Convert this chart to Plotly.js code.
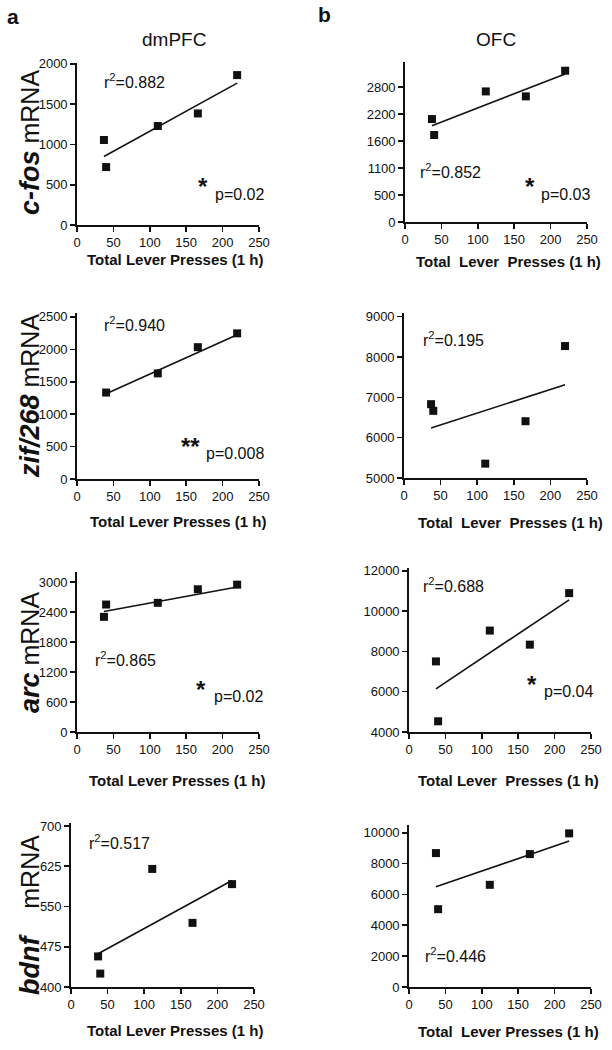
<!DOCTYPE html>
<html>
<head>
<meta charset="utf-8">
<script src="https://cdn.plot.ly/plotly-3.0.1.min.js"></script>
<style>html,body{margin:0;padding:0;background:#fff;}</style>
</head>
<body>
<div id="chart" style="width:612px;height:1050px;"></div>
<script>
// ---- data ----
const leverPresses = [37, 40, 111, 166, 220];
const fitX = [37, 220];

const cfosDmPFC = [1055, 719, 1228, 1384, 1860];
const cfosOFC   = [2136, 1805, 2710, 2607, 3139];   // plotted on the axis scale whose ticks are equally spaced
const zifDmPFC  = [null, 1333, 1629, 2033, 2246];
const zifOFC    = [6830, 6665, 5356, 6408, 8271];
const arcDmPFC  = [2308, 2554, 2588, 2860, 2953];
const arcOFC    = [7502, 4531, 9030, 8333, 10888];
const bdnfDmPFC = [457, 425, 620, 519.5, 591.7];
const bdnfOFC   = [8680, 5043, 6623, 8615, 9957];

const fitCfosDmPFC = [850, 1760];
const fitCfosOFC   = [1998, 3070];
const fitZifDmPFC  = [1300, 2225];
const fitZifOFC    = [6242, 7311];
const fitArcDmPFC  = [2415, 2907];
const fitArcOFC    = [6141, 10557];
const fitBdnfDmPFC = [462, 598.5];
const fitBdnfOFC   = [6494, 9459];

const xTicks = [0, 50, 100, 150, 200, 250];
const yTicksCfosDmPFC = [0, 500, 1000, 1500, 2000];
const yTickValsCfosOFC = [0, 560, 1120, 1680, 2240, 2800];
const yTickTextCfosOFC = ['0', '500', '1100', '1600', '2200', '2800'];
const yTicksZifDmPFC = [0, 500, 1000, 1500, 2000, 2500];
const yTicksZifOFC = [5000, 6000, 7000, 8000, 9000];
const yTicksArcDmPFC = [0, 600, 1200, 1800, 2400, 3000];
const yTicksArcOFC = [4000, 6000, 8000, 10000, 12000];
const yTicksBdnfDmPFC = [400, 475, 550, 625, 700];
const yTicksBdnfOFC = [0, 2000, 4000, 6000, 8000, 10000];

const r2Labels = ['0.882', '0.852', '0.940', '0.195', '0.865', '0.688', '0.517', '0.446'];
const pLabels = ['p=0.02', 'p=0.03', 'p=0.008', null, 'p=0.02', 'p=0.04', null, null];
const starLabels = ['*', '*', '**', null, '*', '*', null, null];
const genes = ['c-fos', 'zif/268', 'arc', 'bdnf'];
const regions = ['dmPFC', 'OFC'];
const xTitleTexts = [
  'Total Lever Presses (1 h)', 'Total\u00a0\u00a0Lever\u00a0\u00a0Presses (1 h)',
  'Total Lever Presses (1 h)', 'Total\u00a0\u00a0Lever\u00a0\u00a0Presses (1 h)',
  'Total Lever Presses (1 h)', 'Total Lever\u00a0\u00a0Presses (1 h)',
  'Total Lever Presses (1 h)', 'Total\u00a0\u00a0Lever Presses (1 h)'
];

// ---- layout helpers ----
const W = 612, H = 1050;
const fx = x => x / W;
const fy = y => 1 - y / H;
const FONT = '"Liberation Sans", Arial, Helvetica, sans-serif';

const panels = [
  {y: cfosDmPFC, fit: fitCfosDmPFC, dom: [77, 259, 63, 225], range: [0, 2010], tv: yTicksCfosDmPFC},
  {y: cfosOFC, fit: fitCfosOFC, dom: [405, 587, 62, 222], range: [0, 3320], tv: yTickValsCfosOFC, tt: yTickTextCfosOFC},
  {y: zifDmPFC, fit: fitZifDmPFC, dom: [77, 259, 313, 479], range: [0, 2560], tv: yTicksZifDmPFC},
  {y: zifOFC, fit: fitZifOFC, dom: [404, 587, 313, 478], range: [5000, 9090], tv: yTicksZifOFC},
  {y: arcDmPFC, fit: fitArcDmPFC, dom: [77, 259, 572, 732], range: [0, 3206], tv: yTicksArcDmPFC},
  {y: arcOFC, fit: fitArcOFC, dom: [409, 591, 568, 732], range: [4000, 12134], tv: yTicksArcOFC},
  {y: bdnfDmPFC, fit: fitBdnfDmPFC, dom: [71, 254, 823, 987], range: [400, 705.6], tv: yTicksBdnfDmPFC},
  {y: bdnfOFC, fit: fitBdnfOFC, dom: [409, 591, 825, 987], range: [0, 10500], tv: yTicksBdnfOFC}
];

// annotation positions (pixels)
const r2Pos = [[102, 81], [418, 171], [102, 324], [421, 339], [93, 659], [421, 585], [87, 842], [423, 955]];
const pPos = [[213, 194], [539, 194], [204, 454], null, [212, 696], [542, 692], null, null];
const starPos = [[203, 186], [530, 186], [190, 446], null, [201, 689], [532, 684], null, null];
const xTitlePos = [[175, 259], [508, 261], [178, 521], [510, 522], [177, 780], [508, 780], [175, 1030], [508, 1031]];
const yTitlePos = [[30, 143], [30, 396], [30, 653], [30, 915]];

const data = [];
const layout = {
  width: W, height: H,
  margin: {l: 0, r: 0, t: 0, b: 0},
  paper_bgcolor: '#fff', plot_bgcolor: 'rgba(0,0,0,0)',
  showlegend: false,
  annotations: []
};

panels.forEach((p, i) => {
  const n = i + 1;
  const xa = 'x' + (n === 1 ? '' : n), ya = 'y' + (n === 1 ? '' : n);
  data.push({
    x: leverPresses, y: p.y, xaxis: xa, yaxis: ya, type: 'scatter', mode: 'markers',
    marker: {symbol: 'square', size: 8, color: '#111'}, cliponaxis: false
  });
  data.push({
    x: fitX, y: p.fit, xaxis: xa, yaxis: ya, type: 'scatter', mode: 'lines',
    line: {color: '#111', width: 1.6}
  });
  const axBase = {
    showline: true, linecolor: '#111', linewidth: 1.8, ticks: 'outside', ticklen: 5,
    tickwidth: 1.6, tickcolor: '#111', showgrid: false, zeroline: false,
    tickfont: {family: FONT, size: 13, color: '#111'}, tickformat: 'd'
  };
  layout['xaxis' + (n === 1 ? '' : n)] = Object.assign({}, axBase, {
    domain: [fx(p.dom[0]), fx(p.dom[1])], range: [0, 250], tickvals: xTicks,
    anchor: ya, ticklabelstandoff: 0
  });
  const yax = Object.assign({}, axBase, {
    domain: [fy(p.dom[3]), fy(p.dom[2])], range: p.range, tickvals: p.tv,
    anchor: xa, ticklabelstandoff: 0
  });
  if (p.tt) yax.ticktext = p.tt;
  layout['yaxis' + (n === 1 ? '' : n)] = yax;

  layout.annotations.push({
    xref: 'paper', yref: 'paper', x: fx(r2Pos[i][0]), y: fy(r2Pos[i][1]),
    xanchor: 'left', yanchor: 'middle', showarrow: false,
    text: 'r<sup>2</sup>=' + r2Labels[i], font: {family: FONT, size: 16, color: '#111'}
  });
  if (pLabels[i]) {
    layout.annotations.push({
      xref: 'paper', yref: 'paper', x: fx(pPos[i][0]), y: fy(pPos[i][1]),
      xanchor: 'left', yanchor: 'middle', showarrow: false,
      text: pLabels[i], font: {family: FONT, size: 16, color: '#111'}
    });
    layout.annotations.push({
      xref: 'paper', yref: 'paper', x: fx(starPos[i][0]), y: fy(starPos[i][1]),
      xanchor: 'center', yanchor: 'middle', showarrow: false,
      text: '<b>' + starLabels[i] + '</b>', font: {family: FONT, size: 24, color: '#111'}
    });
  }
  layout.annotations.push({
    xref: 'paper', yref: 'paper', x: fx(xTitlePos[i][0]), y: fy(xTitlePos[i][1]),
    xanchor: 'center', yanchor: 'middle', showarrow: false,
    text: '<b>' + xTitleTexts[i] + '</b>', font: {family: FONT, size: 15, color: '#111'}
  });
});

genes.forEach((g, k) => {
  const sep = g === 'bdnf' ? '\u00a0\u00a0\u00a0\u00a0' : ' ';
  layout.annotations.push({
    xref: 'paper', yref: 'paper', x: fx(yTitlePos[k][0]), y: fy(yTitlePos[k][1]),
    xanchor: 'center', yanchor: 'middle', showarrow: false, textangle: -90,
    text: '<span style="font-size:27px"><b><i>' + g + '</i></b></span>' + sep + 'mRNA',
    font: {family: FONT, size: 25, color: '#111'}
  });
});

// column titles and panel letters
layout.annotations.push({xref: 'paper', yref: 'paper', x: fx(174), y: fy(39), xanchor: 'center', yanchor: 'middle',
  showarrow: false, text: regions[0], font: {family: FONT, size: 19, color: '#111'}});
layout.annotations.push({xref: 'paper', yref: 'paper', x: fx(496), y: fy(39), xanchor: 'center', yanchor: 'middle',
  showarrow: false, text: regions[1], font: {family: FONT, size: 19, color: '#111'}});
layout.annotations.push({xref: 'paper', yref: 'paper', x: fx(13), y: fy(16), xanchor: 'center', yanchor: 'middle',
  showarrow: false, text: '<b>a</b>', font: {family: FONT, size: 21, color: '#111'}});
layout.annotations.push({xref: 'paper', yref: 'paper', x: fx(324), y: fy(15), xanchor: 'center', yanchor: 'middle',
  showarrow: false, text: '<b>b</b>', font: {family: FONT, size: 21, color: '#111'}});

Plotly.newPlot('chart', data, layout, {staticPlot: true, displayModeBar: false});
</script>
</body>
</html>
